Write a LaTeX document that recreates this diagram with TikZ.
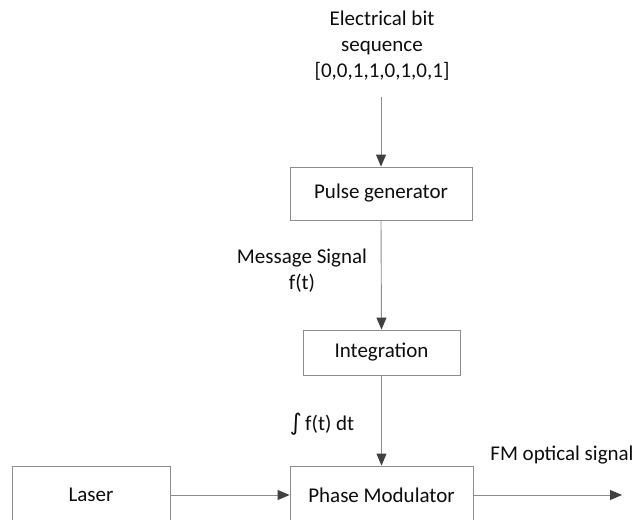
\documentclass[tikz,border=0pt]{standalone}
\usepackage{fontspec}
\setmainfont{Carlito}
\newfontfamily\symfont{DejaVu Sans}
\usetikzlibrary{arrows.meta}
\definecolor{edgegray}{HTML}{8C8C8C}
\definecolor{tipgray}{HTML}{404040}
\definecolor{inkgray}{HTML}{0D0D0D}
\begin{document}
\begin{tikzpicture}[x=1pt,y=-1pt,
  font=\fontsize{21}{26}\selectfont, text=inkgray,
  box/.style={draw=edgegray, line width=0.9pt, fill=white, inner sep=0pt},
  label/.style={align=center, inner sep=0pt},
  flow/.style={draw=edgegray, line width=0.9pt,
    -{Triangle[length=12pt,width=10pt,color=tipgray]}},
  plain/.style={draw=edgegray, line width=0.9pt}]
\useasboundingbox (0,0) rectangle (634,519);
\clip (0,0) rectangle (634,519);

% source text
\node[label] (bits) at (382,46) {Electrical bit\\sequence\\{[0,0,1,1,0,1,0,1]}};
\coordinate (src) at (381,97);

% blocks
\node[box, minimum width=182pt, minimum height=53pt] (pulse) at (381,193.5) {Pulse generator};
\node[box, minimum width=157pt, minimum height=45pt] (integ) at (381.5,352.5) {Integration};
\node[box, minimum width=183pt, minimum height=58pt] (pm) at (381.5,495) {Phase Modulator};
\node[box, minimum width=158pt, minimum height=58pt] (laser) at (91,495) {Laser};
\coordinate (out) at (622,495);

% signal labels
\node[label] (msg) at (302,271) {Message Signal\\f(t)};
\node[label] (intlab) at (322,424) {{\symfont\fontsize{23}{26}\selectfont ∫}\,f(t) dt};
\node[label] (fm) at (562,455) {FM optical signal};

% connectors
\draw[flow] (src) -- (pulse.north);
\draw[flow] (pulse.south) -- (integ.north);
\draw[flow] (integ.south) -- (pm.north);
\draw[flow] (laser.east) -- (pm.west);
\draw[flow] (pm.east) -- (out);
\end{tikzpicture}
\end{document}
